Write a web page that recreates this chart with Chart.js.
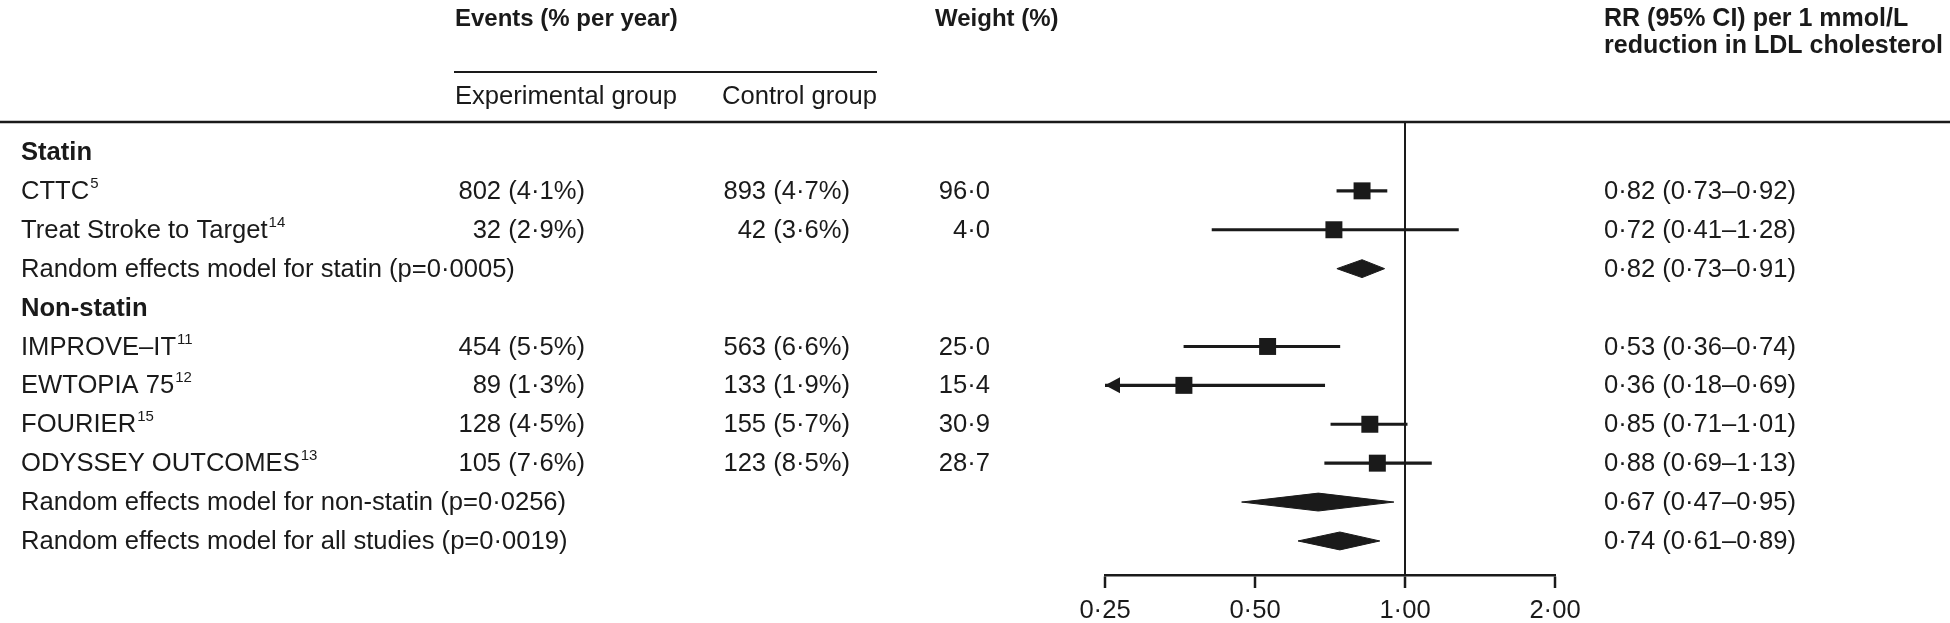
<!DOCTYPE html>
<html>
<head>
<meta charset="utf-8">
<script src="https://cdn.jsdelivr.net/npm/chart.js@4.4.1/dist/chart.umd.min.js"></script>
<style>
  html, body { margin: 0; padding: 0; background: #fff; }
  #forest { display: block; }
</style>
</head>
<body>
<canvas id="forest" width="1950" height="623"></canvas>
<script>
// rows of the table, top to bottom
const ROW_LABELS = ['Statin', 'CTTC', 'Treat Stroke to Target', 'Random effects model for statin (p=0·0005)',
    'Non-statin', 'IMPROVE–IT', 'EWTOPIA 75', 'FOURIER', 'ODYSSEY OUTCOMES',
    'Random effects model for non-statin (p=0·0256)', 'Random effects model for all studies (p=0·0019)'];
const ROW_REFS = ['', '5', '14', '', '', '11', '12', '15', '13', '', ''];
const ROW_KIND = ['group', 'study', 'study', 'pooled', 'group', 'study', 'study', 'study', 'study', 'pooled', 'pooled'];
const EXP_EVENTS = ['', '802 (4·1%)', '32 (2·9%)', '', '', '454 (5·5%)', '89 (1·3%)', '128 (4·5%)', '105 (7·6%)', '', ''];
const CTRL_EVENTS = ['', '893 (4·7%)', '42 (3·6%)', '', '', '563 (6·6%)', '133 (1·9%)', '155 (5·7%)', '123 (8·5%)', '', ''];
const WEIGHTS = ['', '96·0', '4·0', '', '', '25·0', '15·4', '30·9', '28·7', '', ''];
const RR = [null, 0.82, 0.72, 0.82, null, 0.53, 0.36, 0.85, 0.88, 0.67, 0.74];
const CI_LOW = [null, 0.73, 0.41, 0.73, null, 0.36, 0.18, 0.71, 0.69, 0.47, 0.61];
const CI_HIGH = [null, 0.92, 1.28, 0.91, null, 0.74, 0.69, 1.01, 1.13, 0.95, 0.89];

const TICK_VALUES = [0.25, 0.5, 1, 2];
const TICK_LABELS = ['0·25', '0·50', '1·00', '2·00'];

const INK = '#1a1a1a';
const FONT = '"Liberation Sans", Arial, sans-serif';
const BODY = '25.6px ' + FONT;
const DIAMOND_HALF = 0.23;

function fmt(v) {
    return v.toFixed(2).replace('.', '·');
}

// datasets
const squares = [], ciBars = [], diamonds = [];
RR.forEach((rr, i) => {
    if (rr === null) return;
    if (ROW_KIND[i] === 'study') {
        squares.push({ x: rr, y: i });
        ciBars.push({ x: [CI_LOW[i], CI_HIGH[i]], y: i });
    } else {
        diamonds.push({
            type: 'line',
            data: [
                { x: CI_LOW[i], y: i },
                { x: rr, y: i - DIAMOND_HALF },
                { x: CI_HIGH[i], y: i },
                { x: rr, y: i + DIAMOND_HALF },
                { x: CI_LOW[i], y: i }
            ],
            fill: 'shape',
            backgroundColor: INK,
            borderColor: INK,
            borderWidth: 1,
            pointRadius: 0,
            tension: 0,
            order: 1
        });
    }
});

// table text, headers, rules and the clipped-CI arrow
const tablePlugin = {
    id: 'tableText',
    afterDraw(chart) {
        const ctx = chart.ctx;
        const ys = chart.scales.y;
        const xs = chart.scales.x;
        ctx.save();
        ctx.fillStyle = INK;
        ctx.strokeStyle = INK;

        // headers
        ctx.textBaseline = 'middle';
        ctx.textAlign = 'left';
        ctx.font = 'bold 24px ' + FONT;
        ctx.fillText('Events (% per year)', 455, 19);
        ctx.fillText('Weight (%)', 935, 19);
        ctx.font = 'bold 25px ' + FONT;
        ctx.fillText('RR (95% CI) per 1 mmol/L', 1604, 19);
        ctx.fillText('reduction in LDL cholesterol', 1604, 46);

        ctx.lineWidth = 2;
        ctx.beginPath();
        ctx.moveTo(454, 72);
        ctx.lineTo(877, 72);
        ctx.stroke();

        ctx.font = BODY;
        ctx.fillText('Experimental group', 455, 97);
        ctx.textAlign = 'right';
        ctx.fillText('Control group', 877, 97);

        ctx.lineWidth = 2.5;
        ctx.beginPath();
        ctx.moveTo(0, chart.chartArea.top);
        ctx.lineTo(1950, chart.chartArea.top);
        ctx.stroke();

        // rows
        ROW_LABELS.forEach((label, i) => {
            const y = ys.getPixelForValue(i) + 1;
            ctx.textAlign = 'left';
            ctx.font = (ROW_KIND[i] === 'group' ? 'bold ' : '') + BODY;
            ctx.fillText(label, 21, y);
            if (ROW_REFS[i]) {
                const w = ctx.measureText(label).width;
                ctx.font = '15px ' + FONT;
                ctx.fillText(ROW_REFS[i], 21 + w + 1, y - 8);
                ctx.font = BODY;
            }
            ctx.textAlign = 'right';
            if (EXP_EVENTS[i]) ctx.fillText(EXP_EVENTS[i], 585, y);
            if (CTRL_EVENTS[i]) ctx.fillText(CTRL_EVENTS[i], 850, y);
            if (WEIGHTS[i]) ctx.fillText(WEIGHTS[i], 990, y);
            if (RR[i] !== null) {
                ctx.textAlign = 'left';
                ctx.fillText(fmt(RR[i]) + ' (' + fmt(CI_LOW[i]) + '–' + fmt(CI_HIGH[i]) + ')', 1604, y);
            }
        });

        // arrow where the CI runs past the axis minimum
        CI_LOW.forEach((lo, i) => {
            if (lo === null || lo >= xs.min) return;
            const y = ys.getPixelForValue(i);
            const x0 = xs.getPixelForValue(xs.min);
            ctx.beginPath();
            ctx.moveTo(x0, y);
            ctx.lineTo(x0 + 15, y - 8);
            ctx.lineTo(x0 + 15, y + 8);
            ctx.closePath();
            ctx.fill();
        });
        ctx.restore();
    }
};

new Chart(document.getElementById('forest'), {
    type: 'scatter',
    data: {
        datasets: [
            {
                type: 'scatter',
                data: squares,
                pointStyle: 'rect',
                pointRadius: 12,
                pointHoverRadius: 12,
                backgroundColor: INK,
                borderWidth: 0,
                order: 0
            },
            ...diamonds,
            {
                type: 'bar',
                indexAxis: 'y',
                data: ciBars,
                barThickness: 2.5,
                backgroundColor: INK,
                borderWidth: 0,
                order: 2
            }
        ]
    },
    options: {
        responsive: false,
        animation: false,
        events: [],
        layout: { padding: { left: 1105, right: 395, top: 122, bottom: 0 } },
        plugins: { legend: { display: false }, tooltip: { enabled: false } },
        scales: {
            x: {
                type: 'logarithmic',
                min: 0.25,
                max: 2,
                afterBuildTicks: s => { s.ticks = TICK_VALUES.map(v => ({ value: v })); },
                afterFit: s => { s.height = 48; },
                ticks: {
                    color: INK,
                    font: { family: FONT, size: 25.6 },
                    padding: 8,
                    maxRotation: 0,
                    autoSkip: false,
                    callback: v => TICK_LABELS[TICK_VALUES.indexOf(v)]
                },
                grid: {
                    color: c => (c.tick && c.tick.value === 1 ? INK : 'rgba(0,0,0,0)'),
                    lineWidth: 2,
                    tickColor: INK,
                    tickLength: 13,
                    tickWidth: 2.5
                },
                border: { display: true, color: INK, width: 2.5 }
            },
            y: {
                type: 'linear',
                reverse: true,
                offset: false,
                min: -0.77,
                max: 10.875,
                display: false
            }
        }
    },
    plugins: [tablePlugin]
});
</script>
</body>
</html>
